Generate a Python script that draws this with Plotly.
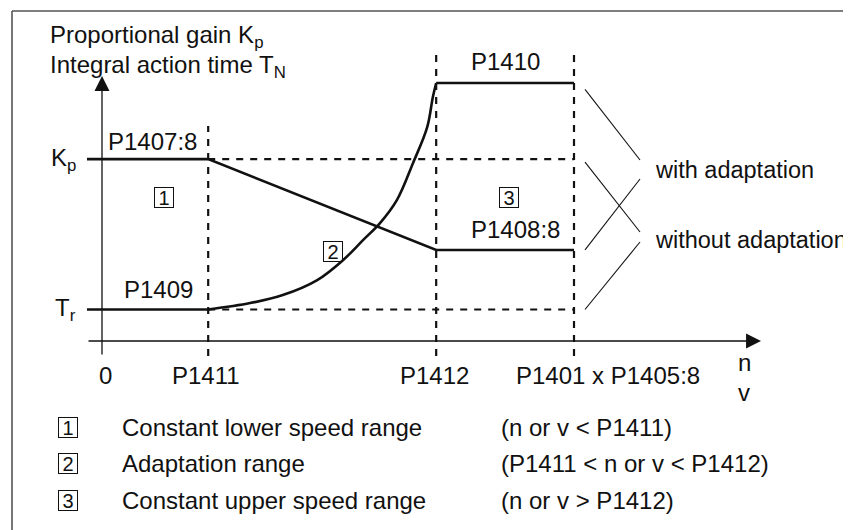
import plotly.graph_objects as go

# speed axis (n / v), breakpoints in % of max speed
speed_pos = [0, 22.5, 70.8, 100]
speed_labels = ["0", "P1411", "P1412", "P1401 x P1405:8"]

# controller parameter levels
kp_level = 70.5      # P1407:8
kp_adapt = 35.3      # P1408:8
tn_level = 12.2      # P1409
tn_adapt = 100.0     # P1410

# integral action time curve in the adaptation range
curve_x = [22.5, 31.4, 38.3, 45.6, 51.1, 55.3, 58.9, 62.5, 65.9, 68.9, 70.1, 70.8]
curve_y = [12.2, 14.7, 17.8, 23.6, 31.4, 39.1, 45.7, 54.7, 69.0, 82.9, 94.6, 100.0]

legend_text = ["Constant lower speed range", "Adaptation range", "Constant upper speed range"]
legend_cond = ["(n or v < P1411)", "(P1411 < n or v < P1412)", "(n or v > P1412)"]

W, H = 851, 530
OFF = 8                                  # page body margin
OX, OY, SX, SY = 102, 341, 4.72, 2.58    # origin in page px and px per unit


def px2x(px):
    return (px - OX) / SX


def py2y(py):
    return (OY - py) / SY


FONT = "Liberation Sans, Arial, Helvetica, sans-serif"
BLACK = "#111111"
p1411, p1412, pmax = speed_pos[1], speed_pos[2], speed_pos[3]
x_left = px2x(87)
y_low = py2y(356)

fig = go.Figure()

# proportional gain path (with adaptation)
fig.add_trace(go.Scatter(
    x=[x_left, p1411, p1412, pmax], y=[kp_level, kp_level, kp_adapt, kp_adapt],
    mode="lines", line=dict(color=BLACK, width=2.6), hoverinfo="skip"))
# integral action time: constant parts and adaptation curve
fig.add_trace(go.Scatter(
    x=[x_left, p1411], y=[tn_level, tn_level],
    mode="lines", line=dict(color=BLACK, width=2.6), hoverinfo="skip"))
fig.add_trace(go.Scatter(
    x=curve_x, y=curve_y, mode="lines",
    line=dict(color=BLACK, width=2.6, shape="spline", smoothing=1.0), hoverinfo="skip"))
fig.add_trace(go.Scatter(
    x=[p1412, pmax], y=[tn_adapt, tn_adapt],
    mode="lines", line=dict(color=BLACK, width=2.6), hoverinfo="skip"))

# dashed: without adaptation + range boundaries
dash = dict(color=BLACK, width=2.2, dash="7px,7px")
fig.add_trace(go.Scatter(x=[p1411, pmax], y=[kp_level, kp_level], mode="lines",
                         line=dash, hoverinfo="skip"))
fig.add_trace(go.Scatter(x=[p1411, pmax], y=[tn_level, tn_level], mode="lines",
                         line=dash, hoverinfo="skip"))
fig.add_trace(go.Scatter(x=[p1411, p1411], y=[y_low, py2y(126)], mode="lines",
                         line=dash, hoverinfo="skip"))
fig.add_trace(go.Scatter(x=[p1412, p1412], y=[y_low, py2y(52)], mode="lines",
                         line=dash, hoverinfo="skip"))
fig.add_trace(go.Scatter(x=[pmax, pmax], y=[y_low, py2y(52)], mode="lines",
                         line=dash, hoverinfo="skip"))

# pointer lines to "with / without adaptation"
x0p, x1p = px2x(585), px2x(640)
pointer = [
    (tn_adapt - 2.5, py2y(160)),
    (kp_level - 1.2, py2y(232)),
    (kp_adapt, py2y(179)),
    (tn_level, py2y(242)),
]
for ys, ye in pointer:
    fig.add_shape(type="line", x0=x0p, y0=ys, x1=x1p, y1=ye,
                  line=dict(color=BLACK, width=1.1))

# frame (left and top edges)
fig.add_shape(type="line", x0=px2x(12), x1=px2x(12), y0=py2y(H), y1=py2y(11),
              line=dict(color="#555555", width=1.6))
fig.add_shape(type="line", x0=px2x(12), x1=px2x(W), y0=py2y(11), y1=py2y(11),
              line=dict(color="#555555", width=1.6))

ann = []


def txt(text, x, y, xanchor="center", yanchor="middle", size=24, xshift=0, yshift=0):
    ann.append(dict(text=text, x=x, y=y, xref="x", yref="y", showarrow=False,
                    xanchor=xanchor, yanchor=yanchor, xshift=xshift, yshift=yshift,
                    font=dict(family=FONT, size=size, color=BLACK)))


def boxed(num, x, y):
    ann.append(dict(text=str(num), x=x, y=y, xref="x", yref="y", showarrow=False,
                    width=18, height=19, borderwidth=1, bordercolor=BLACK, borderpad=0,
                    font=dict(family=FONT, size=20, color=BLACK)))


# axes with arrows
ann.append(dict(x=0, y=py2y(76), ax=0, ay=y_low, xref="x", yref="y", axref="x", ayref="y",
                text="", showarrow=True, arrowhead=2, arrowsize=2.3, arrowwidth=1.3,
                arrowcolor=BLACK))
ann.append(dict(x=px2x(761), y=0, ax=x_left, ay=0, xref="x", yref="y", axref="x", ayref="y",
                text="", showarrow=True, arrowhead=2, arrowsize=2.3, arrowwidth=1.3,
                arrowcolor=BLACK))

# axis titles
txt("Proportional gain K<sub>p</sub>", px2x(48), py2y(36), xanchor="left")
txt("Integral action time T<sub>N</sub>", px2x(48), py2y(66), xanchor="left")
txt("K<sub>p</sub>", 0, kp_level, xanchor="right", xshift=-24, yshift=0)
txt("T<sub>r</sub>", 0, tn_level, xanchor="right", xshift=-24, yshift=0)

# parameter labels
txt("P1407:8", p1411, kp_level, xanchor="right", xshift=-9, yshift=18)
txt("P1409", p1411, tn_level, xanchor="right", xshift=-13, yshift=20)
txt("P1410", (p1412 + pmax) / 2, tn_adapt, yshift=22)
txt("P1408:8", (p1412 + pmax) / 2, kp_adapt, xshift=10, yshift=20)

# speed tick labels
shifts = [3, -2, -2, 34]
for pos, lab, sh in zip(speed_pos, speed_labels, shifts):
    txt(lab, pos, 0, xshift=sh, yshift=-34)
txt("n", px2x(744), py2y(362))
txt("v", px2x(744), py2y(392))

# range markers
boxed(1, px2x(164), py2y(197))
boxed(2, px2x(333), py2y(251))
boxed(3, px2x(509), py2y(197))

txt("with adaptation", px2x(653), py2y(170), xanchor="left", size=23.5)
txt("without adaptation", px2x(653), py2y(240), xanchor="left", size=23.5)

# legend rows
for i, (t, c) in enumerate(zip(legend_text, legend_cond)):
    yy = py2y(427 + 36.6 * i)
    boxed(i + 1, px2x(68), yy)
    txt(t, px2x(120), yy, xanchor="left")
    txt(c, px2x(499), yy, xanchor="left")

fig.update_layout(
    width=W - OFF, height=H - OFF,
    margin=dict(l=0, r=0, t=0, b=0, pad=0),
    paper_bgcolor="white", plot_bgcolor="white",
    showlegend=False,
    annotations=ann,
    xaxis=dict(range=[px2x(OFF), px2x(W)], visible=False, fixedrange=True),
    yaxis=dict(range=[py2y(H), py2y(OFF)], visible=False, fixedrange=True),
)

fig.write_html("out.html")
